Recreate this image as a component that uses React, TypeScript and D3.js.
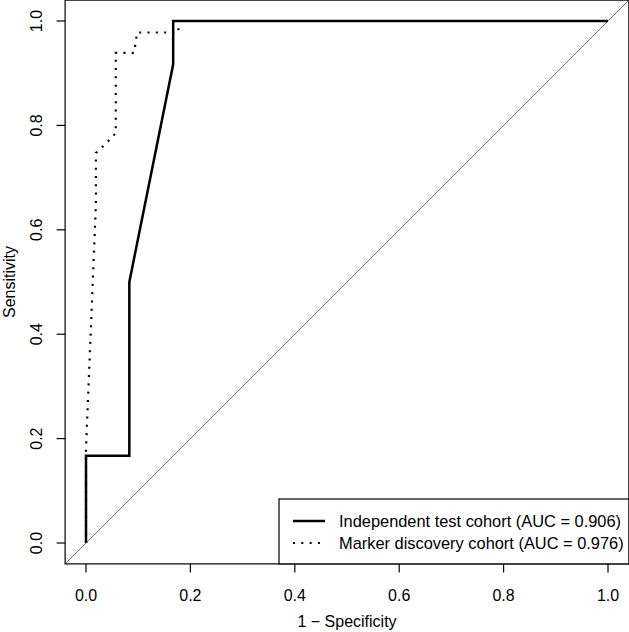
import * as d3 from 'd3';

const W = 629;
const H = 632;

// ROC points as [1 - specificity, sensitivity]
const testFpr = [0, 0, 0.083, 0.083, 0.167, 0.167, 1];
const testTpr = [0, 0.167, 0.167, 0.5, 0.917, 1, 1];

const discFpr = [0, 0, 0.019, 0.019, 0.038, 0.057, 0.057, 0.092, 0.098, 0.177, 0.177, 1];
const discTpr = [0, 0.18, 0.65, 0.747, 0.765, 0.785, 0.939, 0.939, 0.978, 0.978, 1, 1];

const ticks = [0, 0.2, 0.4, 0.6, 0.8, 1];
const legendLabels = ['Independent test cohort (AUC = 0.906)', 'Marker discovery cohort (AUC = 0.976)'];

const FONT = '"Liberation Sans", Arial, Helvetica, sans-serif';

export default function App() {
  const x = d3.scaleLinear().domain([0, 1]).range([86, 608]);
  const y = d3.scaleLinear().domain([0, 1]).range([543, 21]);
  const box = { x0: x(-0.04), x1: x(1.04), y0: y(-0.04), y1: y(1.04) };

  const testPts = testFpr.map((f, i) => [f, testTpr[i]] as [number, number]);
  const discPts = discFpr.map((f, i) => [f, discTpr[i]] as [number, number]);
  const path = d3
    .line<[number, number]>()
    .x((d) => x(d[0]))
    .y((d) => y(d[1]));

  const lg = { x: 279, y: 499 };

  return (
    <svg
      width={W}
      height={H}
      style={{ position: 'absolute', left: 0, top: 0, background: '#fff' }}
      fontFamily={FONT}
    >
      <rect width={W} height={H} fill="#fff" />
      {/* diagonal reference */}
      <line x1={box.x0} y1={box.y0} x2={box.x1} y2={box.y1} stroke="#6e6e6e" strokeWidth={1} />
      <path d={path(discPts) ?? ''} fill="none" stroke="#000" strokeWidth={2.2} strokeDasharray="2 6.3" />
      <path d={path(testPts) ?? ''} fill="none" stroke="#000" strokeWidth={2.5} strokeLinejoin="miter" />

      {/* plot box */}
      <rect
        x={box.x0}
        y={box.y1}
        width={box.x1 - box.x0}
        height={box.y0 - box.y1}
        fill="none"
        stroke="#000"
        strokeWidth={1.2}
      />

      {/* x axis */}
      {ticks.map((t) => (
        <g key={'x' + t}>
          <line x1={x(t)} x2={x(t)} y1={box.y0} y2={box.y0 + 8.5} stroke="#000" strokeWidth={1.2} />
          <text x={x(t)} y={601} textAnchor="middle" fontSize={16} fill="#000">
            {t.toFixed(1)}
          </text>
        </g>
      ))}
      <text x={(x(0) + x(1)) / 2} y={627} textAnchor="middle" fontSize={16}>
        1 − Specificity
      </text>

      {/* y axis */}
      {ticks.map((t) => (
        <g key={'y' + t}>
          <line x1={box.x0} x2={box.x0 - 8.5} y1={y(t)} y2={y(t)} stroke="#000" strokeWidth={1.2} />
          <text
            transform={`translate(41.7,${y(t)}) rotate(-90)`}
            textAnchor="middle"
            fontSize={16}
          >
            {t.toFixed(1)}
          </text>
        </g>
      ))}
      <text transform={`translate(14.5,${(y(0) + y(1)) / 2}) rotate(-90)`} textAnchor="middle" fontSize={16}>
        Sensitivity
      </text>

      {/* legend */}
      <rect x={lg.x} y={lg.y} width={box.x1 - lg.x} height={box.y0 - lg.y} fill="#fff" stroke="#000" strokeWidth={1.2} />
      <line x1={293} x2={325} y1={521} y2={521} stroke="#000" strokeWidth={2.5} />
      <line x1={293} x2={325} y1={543} y2={543} stroke="#000" strokeWidth={2.2} strokeDasharray="2 6.3" />
      {legendLabels.map((l, i) => (
        <text key={l} x={339} y={526.5 + i * 22} fontSize={16.4}>
          {l}
        </text>
      ))}
    </svg>
  );
}
